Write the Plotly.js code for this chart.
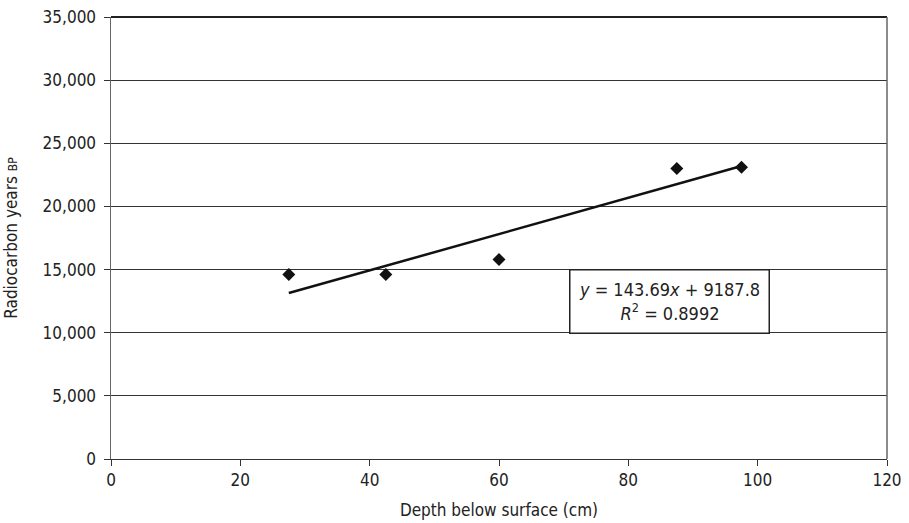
<!DOCTYPE html>
<html>
<head>
<meta charset="utf-8">
<script src="https://cdn.plot.ly/plotly-3.0.1.min.js"></script>
<style>html,body{margin:0;padding:0;background:#fff;}#chart{width:909px;height:523px;}</style>
</head>
<body>
<div id="chart"></div>
<script>
// Data
const depthCm = [27.5, 42.5, 60, 87.5, 97.5];
const radiocarbonYears = [14600, 14600, 15800, 23000, 23100];
// Trendline coefficients as printed on the chart
const trendSlope = 143.69;
const trendIntercept = 9187.8;
const trendR2 = 0.8992;
const xTicks = [0, 20, 40, 60, 80, 100, 120];
const yTicks = [0, 5000, 10000, 15000, 20000, 25000, 30000, 35000];

const FONT = '"DejaVu Sans Condensed", "Liberation Sans Narrow", sans-serif';

const xMin = Math.min(...depthCm), xMax = Math.max(...depthCm);
const trendX = [xMin, xMax];
const trendY = trendX.map(x => trendSlope * x + trendIntercept);

const traces = [
  {
    x: trendX, y: trendY, type: 'scatter', mode: 'lines',
    line: {color: '#111', width: 2.5}, hoverinfo: 'skip', showlegend: false
  },
  {
    x: depthCm, y: radiocarbonYears, type: 'scatter', mode: 'markers',
    marker: {symbol: 'diamond', size: 10, color: '#111'}, showlegend: false
  }
];

const layout = {
  width: 909, height: 523,
  margin: {l: 110.7, r: 22.3, t: 16.7, b: 63.7},
  paper_bgcolor: '#fff', plot_bgcolor: '#fff',
  font: {family: FONT, size: 17, color: '#222'},
  showlegend: false,
  xaxis: {
    range: [0, 120], tickvals: xTicks, ticktext: xTicks.map(String),
    showgrid: false, zeroline: false,
    showline: true, linecolor: '#333', linewidth: 1,
    ticks: 'outside', ticklen: 6, tickcolor: '#333', tickwidth: 1,
    tickfont: {family: FONT, size: 17, color: '#222'},
    title: {text: 'Depth below surface (cm)', font: {family: FONT, size: 17, color: '#222'}, standoff: 14}
  },
  yaxis: {
    range: [0, 35000], tickvals: yTicks, ticktext: yTicks.map(v => v.toLocaleString('en-US')),
    showgrid: true, gridcolor: '#333', gridwidth: 1, zeroline: false,
    showline: true, linecolor: '#666', linewidth: 1.5,
    ticks: 'outside', ticklen: 6, tickcolor: '#333', tickwidth: 1,
    ticklabelstandoff: 4,
    tickfont: {family: FONT, size: 17, color: '#222'},
    title: {text: 'Radiocarbon years <span style="font-size:12px">BP</span>', font: {family: FONT, size: 17, color: '#222'}, standoff: 20}
  },
  shapes: [
    {type: 'line', xref: 'paper', yref: 'paper', x0: 0, x1: 1, y0: 1, y1: 1, line: {color: '#222', width: 2}},
    {type: 'line', xref: 'paper', yref: 'paper', x0: 1, x1: 1, y0: 0, y1: 1, line: {color: '#666', width: 1.5}}
  ],
  annotations: [
    {
      x: 86.3, y: 12500, xref: 'x', yref: 'y', showarrow: false,
      text: '<i>y</i> = ' + trendSlope + '<i>x</i> + ' + trendIntercept + '<br><i>R</i><sup>2</sup> = ' + trendR2,
      font: {family: FONT, size: 18, color: '#222'},
      bgcolor: '#fff', bordercolor: '#222', borderwidth: 1.5, borderpad: 4,
      width: 190, height: 54, align: 'center'
    }
  ]
};

Plotly.newPlot('chart', traces, layout, {displayModeBar: false, staticPlot: true});
</script>
</body>
</html>
